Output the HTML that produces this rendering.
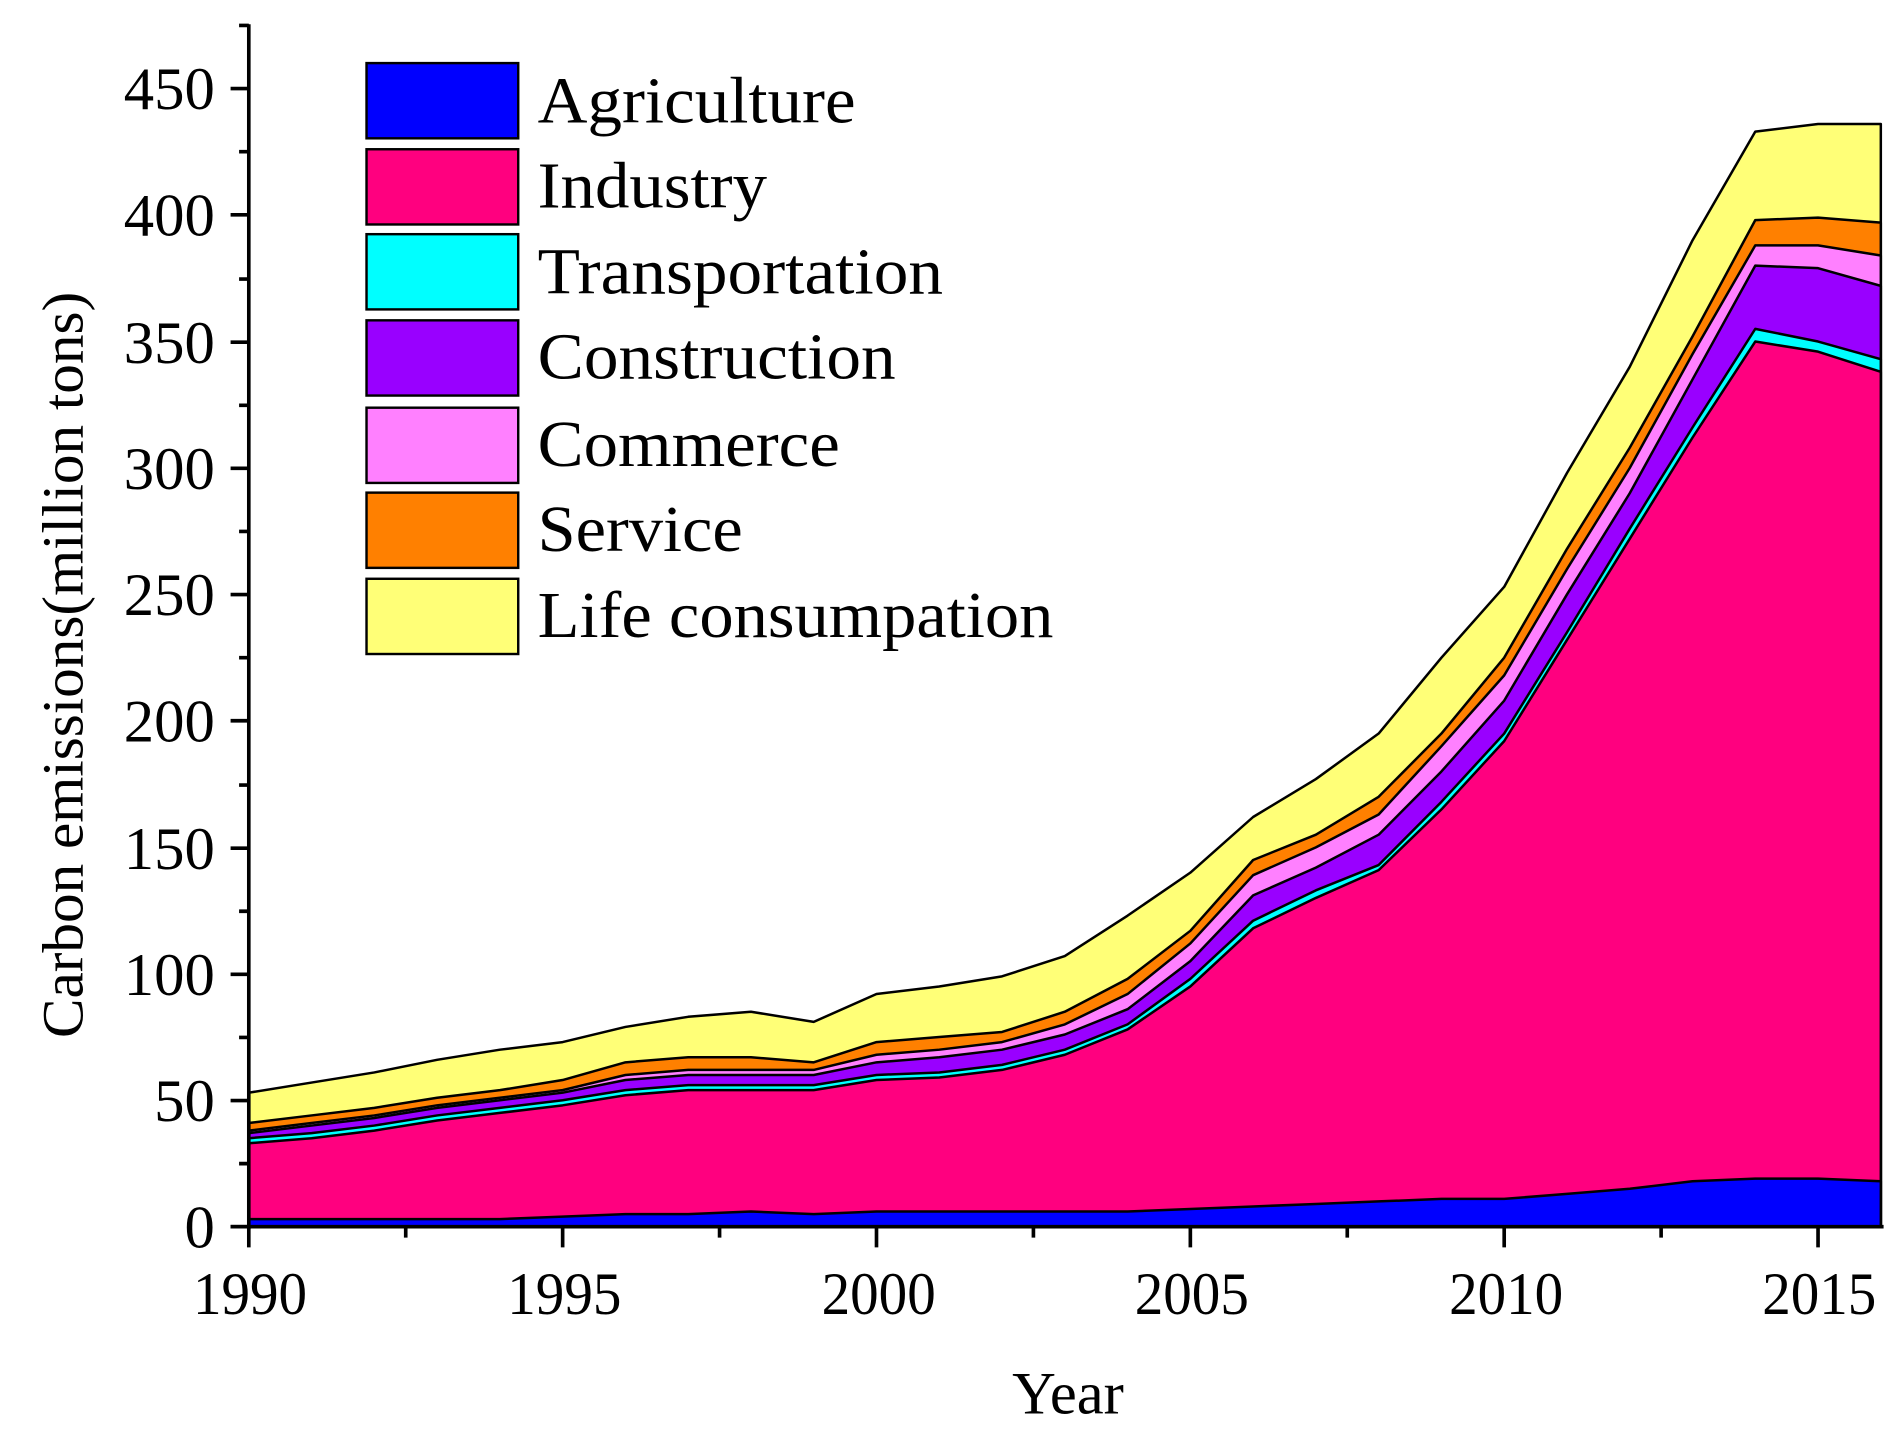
<!DOCTYPE html>
<html><head><meta charset="utf-8"><style>html,body{margin:0;padding:0;background:#fff;}svg{display:block;}</style></head>
<body>
<svg width="1903" height="1433" viewBox="0 0 1568 1181" preserveAspectRatio="none" xmlns="http://www.w3.org/2000/svg" font-family="Liberation Serif, serif">
<g transform="translate(205,1011) scale(51.72,-2.0844)" stroke="#000" stroke-width="2.5" stroke-linejoin="round">
<polygon vector-effect="non-scaling-stroke" fill="#FFFF77" points="0,0 0,53 1,57 2,61 3,66 4,70 5,73 6,79 7,83 8,85 9,81 10,92 11,95 12,99 13,107 14,123 15,140 16,162 17,177 18,195 19,225 20,253 21,298 22,340 23,390 24,433 25,436 26,436 26,0"/>
<polygon vector-effect="non-scaling-stroke" fill="#FF8000" points="0,0 0,41 1,44 2,47 3,51 4,54 5,58 6,65 7,67 8,67 9,65 10,73 11,75 12,77 13,85 14,98 15,117 16,145 17,155 18,170 19,195 20,225 21,268 22,308 23,352 24,398 25,399 26,397 26,0"/>
<polygon vector-effect="non-scaling-stroke" fill="#FF80FF" points="0,0 0,38 1,41 2,44 3,48 4,51 5,54 6,60 7,62 8,62 9,62 10,68 11,70 12,73 13,80 14,92 15,112 16,139 17,150 18,163 19,190 20,218 21,260 22,300 23,345 24,388 25,388 26,384 26,0"/>
<polygon vector-effect="non-scaling-stroke" fill="#9900FF" points="0,0 0,37 1,40 2,43 3,47 4,50 5,53 6,58 7,60 8,60 9,60 10,65 11,67 12,70 13,76 14,86 15,105 16,131 17,142 18,155 19,180 20,208 21,250 22,290 23,335 24,380 25,379 26,372 26,0"/>
<polygon vector-effect="non-scaling-stroke" fill="#00FFFF" points="0,0 0,35 1,37 2,40 3,44 4,47 5,50 6,54 7,56 8,56 9,56 10,60 11,61 12,64 13,70 14,80 15,98 16,121 17,133 18,143 19,168 20,195 21,235 22,276 23,316 24,355 25,350 26,343 26,0"/>
<polygon vector-effect="non-scaling-stroke" fill="#FF007F" points="0,0 0,33 1,35 2,38 3,42 4,45 5,48 6,52 7,54 8,54 9,54 10,58 11,59 12,62 13,68 14,78 15,95 16,118 17,130 18,141 19,165 20,192 21,232 22,272 23,312 24,350 25,346 26,338 26,0"/>
<polygon vector-effect="non-scaling-stroke" fill="#0000FF" points="0,0 0,3 1,3 2,3 3,3 4,3 5,4 6,5 7,5 8,6 9,5 10,6 11,6 12,6 13,6 14,6 15,7 16,8 17,9 18,10 19,11 20,11 21,13 22,15 23,18 24,19 25,19 26,18 26,0"/>
</g>
<g stroke="#000" stroke-width="3" fill="none">
<line x1="205" y1="20" x2="205" y2="1013"/>
<line x1="190" y1="1011" x2="1552" y2="1011"/>
<path d="M190,1011H205M190,907H205M190,803H205M190,699H205M190,594H205M190,490H205M190,386H205M190,282H205M190,177H205M190,73H205"/>
<path d="M197,959H205M197,855H205M197,751H205M197,647H205M197,542H205M197,438H205M197,334H205M197,230H205M197,125H205M197,21H205"/>
<path d="M205,1011V1028M463.6,1011V1028M722.2,1011V1028M980.8,1011V1028M1239.4,1011V1028M1498,1011V1028"/>
<path d="M334.3,1011V1020M592.9,1011V1020M851.5,1011V1020M1110.1,1011V1020M1368.7,1011V1020"/>
</g>
<g font-size="50" fill="#000" text-anchor="end">
<text x="177" y="1028">0</text>
<text x="177" y="924" textLength="50" lengthAdjust="spacingAndGlyphs">50</text>
<text x="177" y="820" textLength="75" lengthAdjust="spacingAndGlyphs">100</text>
<text x="177" y="716" textLength="75" lengthAdjust="spacingAndGlyphs">150</text>
<text x="177" y="611" textLength="75" lengthAdjust="spacingAndGlyphs">200</text>
<text x="177" y="507" textLength="75" lengthAdjust="spacingAndGlyphs">250</text>
<text x="177" y="403" textLength="75" lengthAdjust="spacingAndGlyphs">300</text>
<text x="177" y="299" textLength="75" lengthAdjust="spacingAndGlyphs">350</text>
<text x="177" y="194" textLength="75" lengthAdjust="spacingAndGlyphs">400</text>
<text x="177" y="90" textLength="75" lengthAdjust="spacingAndGlyphs">450</text>
</g>
<g font-size="50" fill="#000" text-anchor="middle">
<text x="206" y="1083" textLength="94" lengthAdjust="spacingAndGlyphs">1990</text>
<text x="465" y="1083" textLength="94" lengthAdjust="spacingAndGlyphs">1995</text>
<text x="724" y="1083" textLength="94" lengthAdjust="spacingAndGlyphs">2000</text>
<text x="982" y="1083" textLength="94" lengthAdjust="spacingAndGlyphs">2005</text>
<text x="1241" y="1083" textLength="94" lengthAdjust="spacingAndGlyphs">2010</text>
<text x="1499" y="1083" textLength="94" lengthAdjust="spacingAndGlyphs">2015</text>
<text x="880" y="1165" textLength="92" lengthAdjust="spacingAndGlyphs">Year</text>
</g>
<text transform="translate(68,548) rotate(-90)" font-size="48" text-anchor="middle" textLength="615" lengthAdjust="spacingAndGlyphs">Carbon emissions(million tons)</text>
<g stroke="#000" stroke-width="2">
<rect x="302" y="52" width="125" height="62" fill="#0000FF"/>
<rect x="302" y="123" width="125" height="62" fill="#FF007F"/>
<rect x="302" y="193" width="125" height="62" fill="#00FFFF"/>
<rect x="302" y="264" width="125" height="62" fill="#9900FF"/>
<rect x="302" y="336" width="125" height="62" fill="#FF80FF"/>
<rect x="302" y="406" width="125" height="62" fill="#FF8000"/>
<rect x="302" y="477" width="125" height="62" fill="#FFFF77"/>
</g>
<g font-size="54" fill="#000">
<text x="443" y="101" textLength="262" lengthAdjust="spacingAndGlyphs">Agriculture</text>
<text x="443" y="171" textLength="189" lengthAdjust="spacingAndGlyphs">Industry</text>
<text x="443" y="242" textLength="334" lengthAdjust="spacingAndGlyphs">Transportation</text>
<text x="443" y="312" textLength="295" lengthAdjust="spacingAndGlyphs">Construction</text>
<text x="443" y="384" textLength="249" lengthAdjust="spacingAndGlyphs">Commerce</text>
<text x="443" y="454" textLength="169" lengthAdjust="spacingAndGlyphs">Service</text>
<text x="443" y="525" textLength="425" lengthAdjust="spacingAndGlyphs">Life consumpation</text>
</g>
</svg>
</body></html>
